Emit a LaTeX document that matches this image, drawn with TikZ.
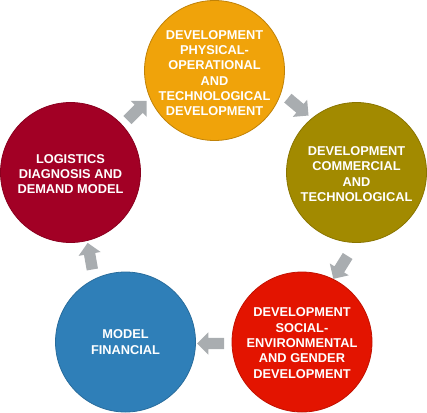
\documentclass[tikz,border=0pt]{standalone}
\usepackage{fontspec}
\setmainfont{Liberation Sans}
\usetikzlibrary{shapes.arrows}
\definecolor{cOrange}{HTML}{F0A30A}
\definecolor{cOlive}{HTML}{A28A00}
\definecolor{cRed}{HTML}{E31400}
\definecolor{cBlue}{HTML}{2F7FB8}
\definecolor{cCrimson}{HTML}{A20025}
\definecolor{cGray}{HTML}{A9ADB0}
\tikzset{
  stage/.style={circle, minimum size=140pt, inner sep=0pt, line width=0.8pt},
  stagetext/.style={text=white, align=center, inner sep=0pt,
    font=\fontsize{12.8}{15.3}\selectfont\bfseries},
  flow/.style={single arrow, fill=cGray, draw=none, inner sep=5.5pt,
    minimum height=27pt, single arrow head extend=5.5pt}
}
\begin{document}
\begin{tikzpicture}[x=1pt,y=-1pt]
\useasboundingbox (0,0) rectangle (427,412);
\node[stage, fill=cOrange, draw=cOrange!80!black] (c1) at (214.5,70.5) {};
\node[stagetext] (t1) at (214.5,73) {DEVELOPMENT\\PHYSICAL-\\OPERATIONAL\\AND\\TECHNOLOGICAL\\DEVELOPMENT};
\node[stage, fill=cOlive, draw=cOlive!85!black] (c2) at (356.5,172.5) {};
\node[stagetext] (t2) at (356.5,174) {DEVELOPMENT\\COMMERCIAL\\AND\\TECHNOLOGICAL};
\node[stage, fill=cRed, draw=cRed!85!black] (c3) at (302,342) {};
\node[stagetext] (t3) at (302,343) {DEVELOPMENT\\SOCIAL-\\ENVIRONMENTAL\\AND GENDER\\DEVELOPMENT};
\node[stage, fill=cBlue, draw=cBlue!85!black] (c4) at (125.5,342) {};
\node[stagetext] (t4) at (125.5,342) {MODEL\\FINANCIAL};
\node[stage, fill=cCrimson, draw=cCrimson!85!black] (c5) at (70.5,172.5) {};
\node[stagetext] (t5) at (70.5,174) {LOGISTICS\\DIAGNOSIS AND\\DEMAND MODEL};
\node[flow, rotate=45] (a1) at (135,112.5) {};
\node[flow, rotate=-40] (a2) at (296,105) {};
\node[flow, rotate=-122] (a3) at (342,265) {};
\node[flow, rotate=180] (a4) at (213.5,343.5) {};
\node[flow, rotate=100] (a5) at (90.5,259) {};
\end{tikzpicture}
\end{document}
